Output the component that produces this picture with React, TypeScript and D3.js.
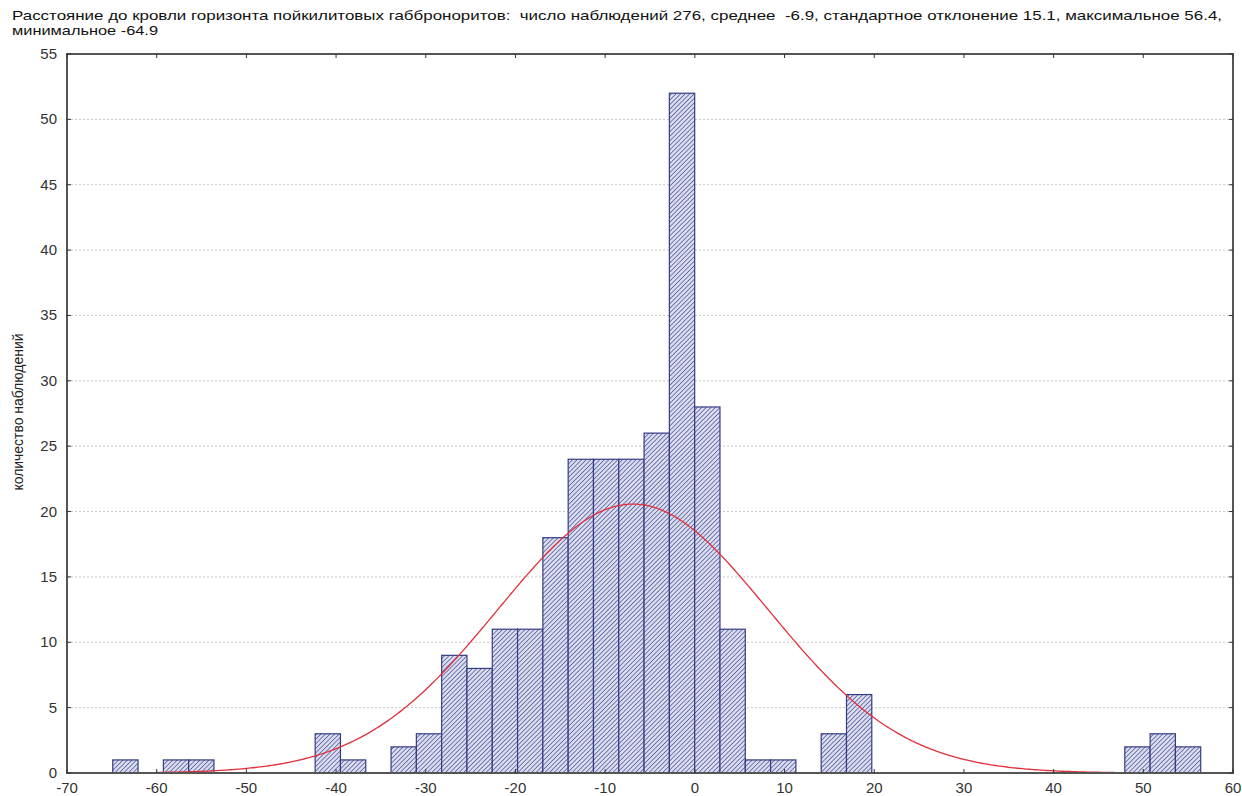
import React from "react";
import * as d3 from "d3";

const binStart = -64.9;
const binEnd = 56.4;
const binCount = 43;
const counts = [
  1, 0, 1, 1, 0, 0, 0, 0, 3, 1, 0, 2, 3, 9, 8, 11, 11, 18, 24, 24, 24, 26, 52, 28, 11, 1, 1, 0, 3, 6, 0,
  0, 0, 0, 0, 0, 0, 0, 0, 0, 2, 3, 2,
];
const xTicks = [-70, -60, -50, -40, -30, -20, -10, 0, 10, 20, 30, 40, 50, 60];
const yTicks = [0, 5, 10, 15, 20, 25, 30, 35, 40, 45, 50, 55];
const nObs = 276;
const mean = -6.9;
const sd = 15.1;
const curveRange = [-60, 48];
const title1 =
  "Расстояние до кровли горизонта пойкилитовых габброноритов:  число наблюдений 276, среднее  -6.9, стандартное отклонение 15.1, максимальное 56.4,";
const title2 = "минимальное -64.9";
const yLabel = "количество наблюдений";

export default function App() {
  const W = 1242, H = 796;
  const left = 67, right = 1233, top = 54, bottom = 773;
  const x = d3.scaleLinear().domain([-70, 60]).range([left, right]);
  const y = d3.scaleLinear().domain([0, 55]).range([bottom, top]);
  const w = (binEnd - binStart) / binCount;
  const bins = counts.map((c, i) => ({ x0: binStart + i * w, x1: binStart + (i + 1) * w, c }));
  const pts = d3.range(curveRange[0], curveRange[1] + 0.001, 0.25).map((v) => [
    v,
    (nObs * w) / (sd * Math.sqrt(2 * Math.PI)) * Math.exp(-((v - mean) ** 2) / (2 * sd * sd)),
  ]);
  const line = d3
    .line<number[]>()
    .x((d) => x(d[0]))
    .y((d) => y(d[1]))
    .curve(d3.curveLinear);
  const font = "Arial, 'Liberation Sans', sans-serif";
  return (
    <svg width={W} height={H} style={{ position: "absolute", left: 0, top: 0, background: "#fff" }}>
      <defs>
        <pattern id="hatch" width="3.2" height="3.2" patternUnits="userSpaceOnUse" patternTransform="rotate(45)">
          <rect width="3.2" height="3.2" fill="#d9dced" />
          <line x1="0" y1="0" x2="0" y2="3.2" stroke="#4a529a" strokeWidth="1.4" />
        </pattern>
      </defs>
      <text x={12} y={20} fontFamily={font} fontSize={13} fill="#111" textLength={1210} lengthAdjust="spacingAndGlyphs" style={{ whiteSpace: "pre" }}>
        {title1}
      </text>
      <text x={12} y={35} fontFamily={font} fontSize={13} fill="#111" textLength={146} lengthAdjust="spacingAndGlyphs">
        {title2}
      </text>
      {yTicks.slice(1, -1).map((t) => (
        <line key={"g" + t} x1={left} x2={right} y1={y(t)} y2={y(t)} stroke="#c8c8c8" strokeWidth={1} strokeDasharray="2,2" />
      ))}
      {bins.filter((b) => b.c > 0).map((b, i) => (
        <rect
          key={i}
          x={x(b.x0)}
          y={y(b.c)}
          width={x(b.x1) - x(b.x0)}
          height={y(0) - y(b.c)}
          fill="url(#hatch)"
          stroke="#343c85"
          strokeWidth={1.2}
        />
      ))}
      <path d={line(pts) || ""} fill="none" stroke="#e0303a" strokeWidth={1.3} />
      <rect x={left} y={top} width={right - left} height={bottom - top} fill="none" stroke="#555" strokeWidth={2} />
      {xTicks.map((t) => (
        <g key={"x" + t}>
          <line x1={x(t)} x2={x(t)} y1={bottom} y2={bottom - 4} stroke="#333" />
          <line x1={x(t)} x2={x(t)} y1={top} y2={top + 4} stroke="#333" />
          <text x={x(t)} y={bottom + 20} textAnchor="middle" fontFamily={font} fontSize={15} fill="#333">
            {t}
          </text>
        </g>
      ))}
      {yTicks.map((t) => (
        <g key={"y" + t}>
          <line x1={left} x2={left + 4} y1={y(t)} y2={y(t)} stroke="#333" />
          <line x1={right} x2={right - 4} y1={y(t)} y2={y(t)} stroke="#333" />
          <text x={57} y={y(t) + 5} textAnchor="end" fontFamily={font} fontSize={15} fill="#333">
            {t}
          </text>
        </g>
      ))}
      <text
        transform={`translate(23, 412) rotate(-90)`}
        textAnchor="middle"
        fontFamily={font}
        fontSize={14}
        fill="#222"
        textLength={157}
        lengthAdjust="spacingAndGlyphs"
      >
        {yLabel}
      </text>
    </svg>
  );
}
